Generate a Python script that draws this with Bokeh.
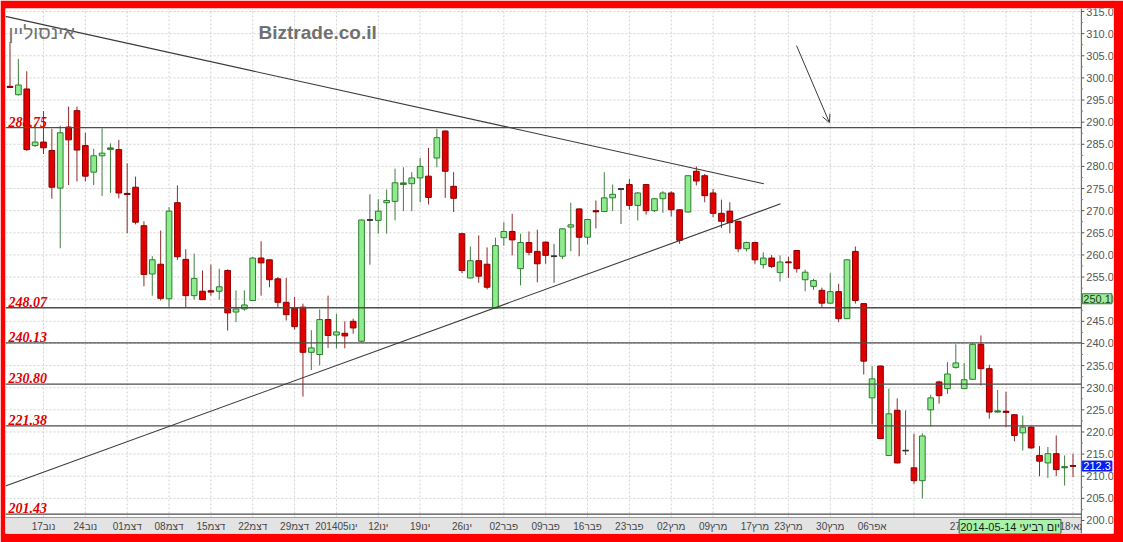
from bokeh.plotting import figure
from bokeh.models import ColumnDataSource, Range1d, Label, Arrow, OpenHead
from bokeh.core.properties import value
from bokeh.embed import file_html
from bokeh.resources import INLINE

# ---------------- data (daily candles) ----------------
opens = [298.1, 296.2, 297.5, 284.7, 285.5, 283.6, 275.1, 288.9, 292.6, 284.7,
         278.7, 282.4, 283.8, 283.8, 273.9, 275.3, 266.6, 255.7, 257.9, 250.1,
         271.8, 259.0, 250.8, 251.8, 251.9, 251.8, 256.5, 247.1, 247.8, 249.7,
         259.3, 258.9, 254.6, 249.3, 248.0, 248.2, 238.0, 237.5, 245.4, 241.9,
         242.3, 245.0, 240.5, 267.9, 267.8, 271.8, 272.1, 275.9, 276.1, 277.4,
         277.8, 281.9, 288.0, 275.5, 264.8, 254.8, 258.7, 257.9, 248.0, 263.9,
         265.3, 256.9, 262.8, 260.8, 262.9, 259.7, 259.7, 266.3, 270.4, 264.0,
         270.0, 269.8, 272.9, 274.9, 275.9, 271.2, 275.9, 270.0, 272.7, 274.0,
         270.2, 269.7, 278.9, 277.9, 274.0, 269.4, 269.9, 267.6, 261.4, 262.8,
         257.8, 259.3, 256.0, 258.4, 261.0, 254.4, 252.9, 252.0, 249.1, 251.7,
         245.6, 260.8, 249.0, 227.7, 234.9, 214.7, 224.9, 215.8, 211.9, 209.0,
         225.0, 231.3, 229.8, 234.6, 229.8, 231.9, 239.8, 234.3, 224.5, 224.7,
         223.9, 219.8, 221.1, 214.7, 213.0, 215.1, 211.9, 212.4]
highs = [308.1, 304.3, 301.5, 289.6, 292.5, 288.5, 289.2, 293.5, 293.5, 287.6,
         284.0, 288.6, 285.2, 286.0, 280.7, 277.7, 267.6, 259.7, 265.5, 270.8,
         275.7, 261.3, 260.3, 256.5, 257.8, 256.9, 256.7, 252.0, 252.0, 259.5,
         263.1, 259.0, 255.0, 254.8, 250.5, 249.0, 243.0, 247.7, 250.8, 246.7,
         245.0, 245.6, 268.0, 273.7, 272.6, 274.8, 279.5, 279.8, 278.7, 281.9,
         284.2, 288.5, 288.1, 278.7, 265.0, 261.9, 264.4, 261.7, 263.9, 267.4,
         269.3, 264.8, 265.3, 265.7, 263.0, 262.5, 266.0, 271.8, 270.5, 268.2,
         272.3, 278.7, 275.9, 275.1, 277.2, 274.2, 276.0, 272.8, 274.4, 274.4,
         270.3, 278.0, 280.0, 278.3, 274.9, 272.5, 271.9, 267.7, 263.0, 263.0,
         260.6, 260.0, 259.9, 259.6, 261.1, 256.7, 254.6, 252.6, 255.9, 253.5,
         259.0, 261.9, 249.1, 234.9, 235.0, 229.8, 227.6, 224.9, 219.6, 219.7,
         228.4, 231.6, 235.8, 239.8, 235.6, 240.1, 241.8, 235.2, 229.5, 229.1,
         224.0, 223.7, 221.3, 216.8, 216.6, 219.2, 214.7, 215.1]
lows = [297.8, 296.0, 283.5, 284.4, 282.8, 272.7, 261.5, 275.8, 276.6, 276.6,
        275.8, 273.3, 274.0, 272.8, 264.9, 266.9, 252.9, 250.8, 249.7, 248.1,
        258.9, 248.1, 249.9, 249.8, 250.8, 249.9, 242.9, 244.8, 247.4, 249.6,
        250.8, 252.7, 248.2, 245.2, 243.1, 228.0, 234.0, 235.0, 239.0, 238.9,
        238.9, 242.2, 240.3, 257.8, 264.8, 264.8, 267.8, 269.9, 269.9, 271.9,
        271.4, 279.8, 272.9, 269.7, 255.9, 254.7, 253.7, 252.2, 247.9, 262.1,
        259.9, 253.1, 259.9, 253.8, 258.0, 253.7, 259.1, 260.8, 259.7, 262.4,
        266.0, 269.7, 269.9, 267.0, 270.2, 267.8, 269.1, 269.7, 269.5, 268.7,
        262.5, 269.6, 275.7, 271.9, 268.5, 266.1, 264.9, 260.6, 260.8, 258.0,
        256.9, 257.0, 254.0, 254.8, 256.0, 251.8, 252.1, 248.0, 249.0, 244.8,
        245.5, 249.0, 233.0, 221.8, 218.4, 214.6, 212.9, 214.8, 208.3, 205.0,
        221.2, 226.4, 228.6, 234.3, 229.7, 231.8, 230.5, 223.0, 224.4, 221.1,
        217.9, 215.8, 216.2, 210.0, 209.6, 210.0, 207.9, 209.8]
closes = [297.9, 298.4, 283.8, 285.5, 284.2, 275.3, 287.6, 286.0, 283.7, 277.8,
          282.4, 283.0, 284.1, 274.0, 273.7, 267.4, 255.6, 258.9, 250.2, 269.9,
          259.6, 250.8, 254.7, 249.9, 251.7, 252.8, 246.9, 247.8, 248.7, 259.3,
          258.2, 254.4, 249.3, 246.5, 243.8, 238.0, 239.0, 245.4, 241.8, 242.6,
          241.7, 243.5, 267.9, 267.9, 269.9, 272.3, 276.3, 276.2, 277.4, 280.0,
          273.0, 286.5, 278.9, 272.8, 256.5, 258.7, 255.2, 252.7, 262.1, 265.3,
          263.4, 262.8, 260.6, 258.0, 259.9, 259.7, 265.9, 266.8, 264.0, 268.0,
          269.8, 272.9, 273.7, 274.9, 271.2, 274.0, 270.0, 272.7, 274.0, 270.2,
          263.3, 277.9, 276.7, 273.4, 269.4, 267.6, 267.3, 261.4, 262.8, 258.9,
          259.3, 257.4, 258.4, 258.3, 256.9, 256.1, 254.2, 249.1, 251.7, 245.6,
          258.9, 249.7, 236.0, 232.0, 218.5, 224.1, 213.0, 215.8, 209.0, 219.1,
          227.7, 228.2, 233.1, 235.6, 231.8, 239.8, 234.3, 224.5, 224.7, 224.5,
          219.2, 221.1, 216.4, 213.4, 215.1, 211.5, 212.1, 212.3]

# date labels on the time strip (candle index -> text)
tick_idx = [4, 9, 14, 19, 24, 29, 34, 39, 44, 49, 54, 59, 64, 69, 74, 79, 84,
            89, 93, 98, 103, 114, 119, 122, 127]
tick_labels = ["17נוב", "24נוב", "01דצמ", "08דצמ", "15דצמ", "22דצמ", "29דצמ",
               "201405ינו", "12ינו", "19ינו", "26ינו", "02פבר", "09פבר", "16פבר",
               "23פבר", "02מרץ", "09מרץ", "17מרץ", "23מרץ", "30מרץ", "06אפר",
               "27אפר", "04מאי", "11מאי", "18מאי"]
grid_idx = [4, 9, 14, 19, 24, 29, 34, 39, 44, 49, 54, 59, 64, 69, 74, 79, 84,
            89, 93, 98, 103, 108, 114, 119, 122, 127]

# price scale ticks
price_ticks = [200 + 5 * k for k in range(24)]
minor_ticks = [202.5 + 5 * k for k in range(23)]

# support / resistance levels
levels = [288.75, 248.07, 240.13, 230.80, 221.38, 201.43]
level_texts = ["288.75", "248.07", "240.13", "230.80", "221.38", "201.43"]

# trend lines (start index, start price, end index, end price)
trend_x0 = [-0.54, -0.54]
trend_y0 = [313.9, 207.8]
trend_x1 = [90.06, 92.06]
trend_y1 = [276.1, 271.55]

# arrow annotation
arrow_pts = [93.97, 307.3, 97.9, 289.9]

title_text = "אינסוליין"
site_text = "Biztrade.co.il"
cursor_date = "2014-05-14 יום רביעי"
cursor_idx = 113.4
last_price = 212.3
marker_price = 250.1

# ---------------- figure ----------------
X0, X1 = -0.538, 131.84       # frame (includes the price-scale strip on the right)
XA = 128.0                    # position of the price axis line
Y0, Y1 = 197.06, 315.68
STRIP_TOP = 200.68            # top of the date strip
STRIP_MID = 198.64
TICK = 0.36                   # 3 px tick length in index units

p = figure(width=1123, height=542, output_backend="svg", toolbar_location=None,
           x_axis_location=None, y_axis_location=None,
           x_range=Range1d(X0, X1), y_range=Range1d(Y0, Y1),
           min_border_left=5, min_border_right=10, min_border_top=8, min_border_bottom=9)
p.outline_line_color = None
p.background_fill_color = "white"
p.border_fill_color = "#FF0000"
p.xgrid.visible = False
p.ygrid.visible = False

# ---------------- grid ----------------
hg = [t for t in price_ticks if t > 200]
p.segment(x0=[X0] * len(hg), x1=[XA] * len(hg), y0=hg, y1=hg,
          line_color="#D2D2D2", line_dash="2 2", line_width=1)
p.segment(x0=grid_idx, x1=grid_idx, y0=[STRIP_TOP] * len(grid_idx), y1=[Y1] * len(grid_idx),
          line_color="#D2D2D2", line_dash="2 2", line_width=1)

# ---------------- candles ----------------
n = len(opens)
idx = list(range(n))
neutral = {43, 65, 73, 107}
up_c, dn_c, nt_c = "#8EEB8E", "#E10000", "#333333"
fills, lines, wicks, tops, bots = [], [], [], [], []
for i in idx:
    o, c = opens[i], closes[i]
    if i in neutral:
        fills.append(nt_c); lines.append(nt_c); wicks.append("#555555")
    elif c >= o:
        fills.append(up_c); lines.append("#2E7D2E"); wicks.append("#3F7F3F")
    else:
        fills.append(dn_c); lines.append("#8B0000"); wicks.append("#8E2A2A")
    tops.append(max(o, c))
    bots.append(min(o, c))

src = ColumnDataSource(dict(x=idx, o=opens, h=highs, l=lows, c=closes,
                            top=tops, bot=bots, fill=fills, line=lines, wick=wicks))
p.segment(x0="x", y0="l", x1="x", y1="h", line_color="wick", line_width=1, source=src)
p.vbar(x="x", width=0.68, top="top", bottom="bot", fill_color="fill",
       line_color="line", line_width=1, source=src)
dx = [i for i in idx if abs(opens[i] - closes[i]) < 0.35]
p.segment(x0=[i - 0.36 for i in dx], x1=[i + 0.36 for i in dx],
          y0=[closes[i] for i in dx], y1=[closes[i] for i in dx],
          line_color=[lines[i] for i in dx], line_width=1.6)

# ---------------- levels ----------------
p.segment(x0=[X0] * len(levels), x1=[XA] * len(levels), y0=levels, y1=levels,
          line_color="#4D4D4D", line_width=1.3)
p.text(x=[X0] * len(levels), y=levels, text=level_texts, x_offset=3, y_offset=-1,
       text_color="#E00000", text_font=value("Liberation Serif"), text_font_style="bold italic",
       text_font_size="14px", text_baseline="bottom", text_align="left")

# ---------------- trend lines + arrow ----------------
p.segment(x0=trend_x0, y0=trend_y0, x1=trend_x1, y1=trend_y1, line_color="#3A3A3A", line_width=1.1)
p.add_layout(Arrow(end=OpenHead(size=8, line_color="#3A3A3A", line_width=1),
                   x_start=arrow_pts[0], y_start=arrow_pts[1],
                   x_end=arrow_pts[2], y_end=arrow_pts[3],
                   line_color="#3A3A3A", line_width=1))

# ---------------- titles ----------------
p.text(x=[X0], y=[310.3], text=[title_text], x_offset=3, text_color="#707070",
       text_font=value("Liberation Sans"), text_font_size="19px",
       text_baseline="middle", text_align="left")
p.text(x=[29.69], y=[310.3], text=[site_text], text_color="#707070",
       text_font=value("Liberation Sans"), text_font_style="bold", text_font_size="19px",
       text_baseline="middle", text_align="left")

# ---------------- date strip ----------------
p.quad(left=[X0], right=[XA], bottom=[Y0], top=[STRIP_TOP], fill_color="#E3E3E3",
       line_color=None)
p.segment(x0=[X0], x1=[XA], y0=[STRIP_TOP], y1=[STRIP_TOP], line_color="#9A9A9A", line_width=1)
p.text(x=tick_idx, y=[STRIP_MID] * len(tick_idx), text=tick_labels, text_color="#474747",
       text_font=value("Liberation Sans"), text_font_size="10px",
       text_baseline="middle", text_align="center")

# ---------------- price scale (drawn inside the frame) ----------------
p.quad(left=[XA], right=[X1], bottom=[Y0], top=[Y1], fill_color="white", line_color=None)
p.segment(x0=[XA], x1=[XA], y0=[Y0], y1=[Y1], line_color="#555555", line_width=1)
p.segment(x0=[XA] * len(price_ticks), x1=[XA + TICK] * len(price_ticks),
          y0=price_ticks, y1=price_ticks, line_color="#555555", line_width=1)
p.segment(x0=[XA] * len(minor_ticks), x1=[XA + TICK * 0.6] * len(minor_ticks),
          y0=minor_ticks, y1=minor_ticks, line_color="#888888", line_width=1)
p.text(x=[XA] * len(price_ticks), y=price_ticks, text=[f"{t:.1f}" for t in price_ticks],
       x_offset=5, text_color="#555555", text_font=value("Liberation Sans"),
       text_font_size="11px", text_baseline="middle", text_align="left")

p.add_layout(Label(x=cursor_idx, y=STRIP_MID, text=cursor_date, text_font="Liberation Sans",
                   text_font_size="11px", text_color="#1A1A1A", text_baseline="middle",
                   text_align="left", background_fill_color="#A9F2A9", background_fill_alpha=1,
                   border_line_color="#2E5E2E", padding=1))
p.add_layout(Label(x=XA, y=marker_price, x_offset=1, text=f"{marker_price:.1f}",
                   text_font="Liberation Sans", text_font_size="11px", text_color="#1A3A1A",
                   text_baseline="middle", text_align="left",
                   background_fill_color="#9CEE9C", background_fill_alpha=1,
                   border_line_color="#2E7D2E", padding=1))
p.add_layout(Label(x=XA, y=last_price, x_offset=1, text=f"{last_price:.1f}",
                   text_font="Liberation Sans", text_font_size="11px", text_color="white",
                   text_baseline="middle", text_align="left",
                   background_fill_color="#0A1EF0", background_fill_alpha=1,
                   border_line_color="#0A1EF0", padding=1))

open("out.html", "w").write(file_html(p, INLINE))
